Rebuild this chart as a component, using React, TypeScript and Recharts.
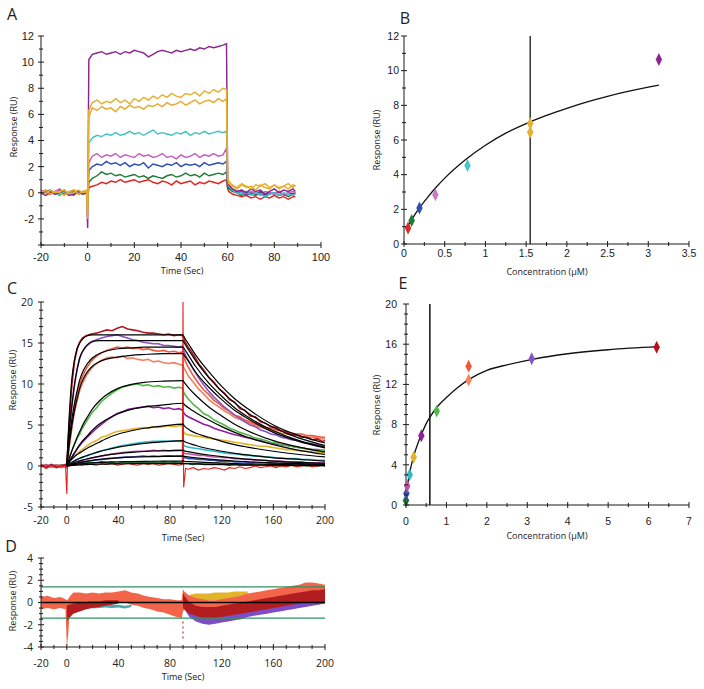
import React from 'react';
import {
  LineChart, Line, XAxis, YAxis, ComposedChart, Scatter, Cell, Area, ReferenceLine,
} from 'recharts';

const _ = null;

/* ================= Panel A : sensorgrams ================= */
const A_TIME = [-20,-18,-16,-14,-12,-10,-8,-6,-4,-2,-0.5,0,0.5,2,4,6,8,10,12,14,16,18,20,22,24,26,28,30,32,34,36,38,40,42,44,46,48,50,52,54,56,58,59.5,60,60.5,62,64,66,68,70,72,74,76,78,80,82,84,86,88,89];
const A_RED = [0.1,-0.2,0.0,-0.1,0.2,-0.1,0.0,-0.2,0.1,-0.1, 0.0,-0.4,0.4,
  0.5,0.6,0.8,0.7,0.9,0.8,1.0,0.8,0.9,1.0,0.8,0.9,1.0,0.8,0.7,0.9,0.8,0.6,0.9,0.7,0.8,0.9,0.6,0.8,0.7,0.9,0.8,0.7,0.9,
  1.0,0.3,0.1, -0.1,-0.2,-0.3,-0.2,-0.4,-0.3,-0.5,-0.3,-0.4,-0.2,-0.4,-0.3,-0.5,-0.3, -0.3];
const A_GREEN = [0.0,0.2,-0.1,0.1,-0.2,0.1,-0.1,0.2,-0.1,0.0, 0.1,-0.6,0.8,
  1.1,1.3,1.6,1.4,1.5,1.3,1.4,1.2,1.3,1.4,1.2,1.3,1.1,1.3,1.2,1.1,1.3,1.4,1.2,1.3,1.5,1.3,1.4,1.2,1.5,1.3,1.4,1.5,1.4,
  1.6,0.4,0.3, 0.1,0.0,-0.2,0.1,-0.1,-0.2,0.0,-0.3,-0.1,0.0,-0.2,-0.1,-0.3,-0.1, 0.0];
const A_BLUE = [-0.1,0.1,0.2,-0.1,0.0,0.2,-0.2,0.1,0.0,-0.1, 0.0,-0.8,1.7,
  2.0,2.2,2.1,2.4,2.2,2.3,2.1,2.3,2.0,2.2,2.1,2.3,1.9,2.2,2.1,2.0,2.2,2.1,2.3,2.0,2.2,2.1,2.2,2.0,2.3,2.1,2.2,2.3,2.2,
  2.4,0.6,0.4, 0.2,0.0,0.1,-0.2,0.0,-0.1,0.1,-0.2,0.0,-0.1,0.1,-0.2,0.0,-0.1, 0.0];
const A_MAGENTA = [0.2,0.0,-0.1,0.1,0.3,0.0,-0.1,0.2,0.0,0.1, 0.0,-0.9,2.3,
  2.8,3.0,2.7,2.9,2.8,3.0,2.7,2.9,2.8,2.7,3.0,2.8,2.9,2.7,2.8,3.0,2.7,2.8,2.6,2.9,2.7,2.8,3.0,2.7,2.9,2.8,3.0,2.8,2.9,
  3.4,0.8,0.5, 0.3,0.1,0.2,-0.1,0.1,0.0,-0.2,0.1,0.0,-0.1,0.1,-0.2,0.0,0.1, 0.0];
const A_CYAN = [0.1,-0.1,0.2,0.0,-0.2,0.1,0.0,-0.1,0.1,0.0, 0.1,-1.2,3.8,
  4.2,4.4,4.3,4.5,4.4,4.6,4.4,4.5,4.7,4.5,4.6,4.4,4.6,4.8,4.5,4.6,4.5,4.4,4.6,4.5,4.7,4.4,4.6,4.5,4.7,4.5,4.6,4.7,4.6,
  4.7,0.9,0.5, 0.2,0.0,-0.1,0.1,-0.2,0.0,-0.1,-0.3,-0.1,0.0,-0.2,0.0,-0.1,-0.2, -0.1];
const A_PURPLE = [0.0,-0.2,0.1,-0.1,0.0,0.2,-0.2,-0.1,0.1,-0.1, 0.0,-2.7,10.2,
  10.6,10.7,10.8,10.6,10.7,10.8,10.6,10.8,10.7,10.9,10.8,10.7,10.4,10.6,10.8,10.9,10.8,10.7,10.9,10.8,10.9,11.0,10.9,11.1,11.0,11.2,11.1,11.2,11.3,
  11.4,0.9,0.6, 0.3,0.1,0.2,0.0,0.3,0.1,0.2,-0.1,0.1,0.3,0.0,0.2,0.1,0.3, 0.1];
const A_GOLD1 = [0.0,0.2,-0.1,0.1,0.0,-0.2,0.1,0.2,-0.1,0.1, 0.2,-2.0,5.8,
  6.5,6.3,6.6,6.4,6.5,6.2,6.6,6.4,6.7,6.5,6.6,6.4,6.7,6.6,6.8,6.6,6.9,6.7,6.8,7.0,6.7,6.9,7.1,6.8,7.0,7.1,6.9,7.2,7.0,
  7.2,1.0,0.7, 0.5,0.3,0.6,0.4,0.5,0.2,0.6,0.4,0.3,0.6,0.4,0.5,0.3,0.6, 0.5];
const A_GOLD2 = [0.1,-0.1,0.2,0.0,0.1,0.2,-0.1,0.0,0.2,0.0, 0.1,-1.6,6.3,
  6.9,7.1,6.8,7.0,6.9,7.2,6.9,7.1,6.8,7.2,7.0,7.3,7.1,7.4,7.2,7.5,7.3,7.6,7.4,7.3,7.6,7.5,7.7,7.4,7.8,7.6,7.9,7.7,8.0,
  7.9,1.2,0.9, 0.6,0.4,0.7,0.5,0.3,0.6,0.5,0.7,0.4,0.6,0.3,0.5,0.7,0.4, 0.6];

const A_X_TICKS = [-20,-10,0,10,20,30,40,50,60,70,80,90,100];
const A_X_LABELS = [-20,0,20,40,60,80,100];
const A_Y_TICKS = [-4,-3,-2,-1,0,1,2,3,4,5,6,7,8,9,10,11,12];
const A_Y_LABELS = [-2,0,2,4,6,8,10,12];
const A_Y_LONG = [-4,-2,0,2,4,6,8,10,12];

const A_TABLE = A_TIME.map((t, i) => ({
  t, red: A_RED[i], green: A_GREEN[i], blue: A_BLUE[i], magenta: A_MAGENTA[i],
  cyan: A_CYAN[i], purple: A_PURPLE[i], gold1: A_GOLD1[i], gold2: A_GOLD2[i],
}));
const A_LINES = [
  { key: 'red', color: '#e4221f' }, { key: 'green', color: '#1f7a35' },
  { key: 'blue', color: '#2f4fb2' }, { key: 'magenta', color: '#c55bbf' },
  { key: 'cyan', color: '#3ec3c4' }, { key: 'purple', color: '#8b2590' },
  { key: 'gold1', color: '#e2ab2c' }, { key: 'gold2', color: '#e5b02f' },
];

/* ================= Panel B : steady-state fit ================= */
const B_CONC = [0.05, 0.094, 0.19, 0.385, 0.78, 1.55, 1.55, 3.13];
const B_RESP = [0.92, 1.36, 2.07, 2.84, 4.53, 6.95, 6.45, 10.65];
const B_COLORS = ['#e0262a', '#1f7a35', '#2f4fb2', '#c77ac4', '#46c6cf', '#e2b233', '#e2b233', '#8b2590'];
const B_FIT_X = [0.06, 0.1, 0.2, 0.3, 0.4, 0.5, 0.75, 1.0, 1.25, 1.5, 1.75, 2.0, 2.25, 2.5, 2.75, 3.0, 3.13];
const B_FIT_Y = [1.15, 1.45, 2.15, 2.75, 3.3, 3.8, 4.85, 5.7, 6.4, 6.95, 7.42, 7.83, 8.2, 8.52, 8.8, 9.05, 9.17];
const B_KD = 1.55;
const B_X_TICKS = [0,0.25,0.5,0.75,1,1.25,1.5,1.75,2,2.25,2.5,2.75,3,3.25,3.5];
const B_X_LABELS = [0,0.5,1,1.5,2,2.5,3,3.5];
const B_Y_TICKS = [0,1,2,3,4,5,6,7,8,9,10,11,12];
const B_Y_LABELS = [0,2,4,6,8,10,12];
const B_POINTS = B_CONC.map((x, i) => ({ x, y: B_RESP[i] }));
const B_FIT = B_FIT_X.map((x, i) => ({ x, y: B_FIT_Y[i] }));

/* ================= Panel C : kinetics with fits ================= */
const C_TIME = [-20,-16,-12,-8,-4,-1,0,0.5,2,4,6,8,10,12,15,19,23,27,31,35,39,43,47,51,55,59,63,67,71,75,79,83,87,89.5,90,90.5,92,94,98,102,106,110,114,118,122,126,130,134,138,142,146,150,154,158,162,166,170,174,178,182,186,190,194,198,200];
const C_DARKRED = [0.1,-0.2,0.2,-0.1,0.0,0.2,0.0,
  1.5,5.5,10.0,12.8,14.3,15.1,15.6,15.9,16.1,16.2,16.4,16.6,16.5,16.8,17.0,16.7,16.6,16.5,16.3,16.2,16.2,16.1,16.0,16.1,15.9,16.0,15.9,
  15.8,15.6,15.0,14.5,13.6,12.5,11.7,10.8,10.2,9.4,8.9,8.1,7.8,7.0,6.8,6.1,6.0,5.4,5.2,4.8,4.7,4.3,4.2,3.8,3.8,3.5,3.5,3.2,3.3,3.0,3.1];
const C_VIOLET = [-0.1,0.1,0.0,-0.2,0.1,0.0,-0.1,
  1.0,4.3,7.4,9.9,11.8,13.1,13.9,14.6,15.1,15.4,15.6,15.8,15.9,16.0,15.8,15.6,15.4,15.3,15.1,15.0,14.9,14.9,14.7,14.7,14.6,14.5,14.6,
  14.4,14.1,13.5,12.9,11.8,10.8,9.9,9.1,8.4,7.8,7.2,6.7,6.2,5.8,5.4,5.0,4.8,4.4,4.2,3.9,3.8,3.5,3.4,3.2,3.1,2.9,2.8,2.7,2.6,2.5,2.5];
const C_TOMATO1 = [0.2,-0.1,0.1,0.0,-0.2,0.1,-0.3,
  0.6,2.6,4.9,7.2,8.8,10.0,10.9,11.9,12.8,13.4,13.8,14.1,14.3,14.5,14.4,14.5,14.3,14.4,14.2,14.3,14.1,14.0,14.1,13.9,14.0,13.8,13.9,
  13.8,13.4,12.7,12.1,11.0,10.1,9.3,8.7,8.0,7.6,7.0,6.7,6.2,6.0,5.6,5.4,5.1,4.9,4.7,4.6,4.4,4.3,4.1,4.0,3.9,3.9,3.7,3.7,3.6,3.5,3.5];
const C_TOMATO2 = [-0.1,0.2,-0.2,0.1,0.0,-0.1,0.1,
  0.5,2.6,4.8,6.6,8.0,9.2,10.0,11.0,11.9,12.5,12.9,13.2,13.3,13.2,13.4,13.1,13.2,13.0,12.9,13.0,12.7,12.8,12.6,12.5,12.6,12.4,12.3,
  12.3,12.0,11.6,11.0,10.2,9.4,8.8,8.1,7.6,7.2,6.7,6.4,5.9,5.7,5.4,5.2,4.9,4.7,4.6,4.3,4.2,4.0,3.9,3.8,3.8,3.6,3.5,3.5,3.4,3.3,3.3];
const C_GREEN = [0.0,-0.1,0.1,-0.2,0.1,0.0,-0.1,
  0.3,1.0,1.9,2.7,3.4,3.9,4.6,5.4,6.4,7.1,7.9,8.4,8.9,9.3,9.6,9.8,9.9,10.0,9.8,9.9,9.7,9.8,9.6,9.7,9.5,9.6,9.5,
  9.3,9.0,8.6,8.2,7.5,7.0,6.4,6.1,5.6,5.3,5.0,4.6,4.4,4.1,3.9,3.7,3.4,3.3,3.1,2.9,2.8,2.6,2.5,2.4,2.3,2.2,2.1,2.0,1.9,1.9,1.8];
const C_PURPLE = [0.1,0.0,-0.1,0.1,0.0,0.1,0.0,
  0.2,0.6,1.1,1.6,2.1,2.5,2.9,3.4,4.0,4.6,5.1,5.6,6.0,6.4,6.6,6.9,7.0,7.1,7.2,7.3,7.1,7.2,7.0,7.1,6.9,7.0,6.8,
  6.7,6.5,6.2,6.0,5.7,5.4,5.1,4.9,4.6,4.4,4.2,4.0,3.8,3.7,3.5,3.4,3.2,3.1,2.9,2.8,2.7,2.6,2.5,2.4,2.3,2.2,2.1,2.0,2.0,1.9,1.9];
const C_GOLD = [0.0,0.1,-0.1,0.0,0.1,-0.1,0.0,
  0.2,0.5,0.9,1.2,1.5,1.8,2.0,2.4,2.8,3.1,3.5,3.7,4.0,4.2,4.3,4.4,4.5,4.6,4.7,4.6,4.8,4.7,4.8,4.9,4.8,4.9,4.9,
  4.6,4.1,3.9,3.8,3.7,3.6,3.5,3.4,3.3,3.2,3.1,3.0,2.9,2.8,2.7,2.6,2.5,2.4,2.4,2.3,2.2,2.1,2.0,2.0,1.9,1.8,1.8,1.7,1.7,1.6,1.6];
const C_CYAN = [0.1,-0.1,0.0,0.1,-0.1,0.0,0.1,
  0.1,0.25,0.45,0.65,0.8,0.95,1.05,1.2,1.45,1.65,1.85,2.0,2.2,2.35,2.5,2.6,2.7,2.8,2.9,2.95,3.0,3.0,3.05,3.0,3.05,3.0,3.0,
  2.7,2.5,2.4,2.3,2.2,2.1,2.0,1.9,1.8,1.7,1.6,1.5,1.5,1.4,1.3,1.3,1.2,1.2,1.1,1.1,1.0,1.0,0.9,0.9,0.9,0.8,0.8,0.8,0.7,0.7,0.7];
const C_MAGENTA = [0.0,0.1,0.0,-0.1,0.1,0.0,0.0,
  0.1,0.2,0.3,0.45,0.55,0.65,0.7,0.8,0.95,1.1,1.2,1.35,1.45,1.55,1.65,1.7,1.75,1.8,1.8,1.85,1.9,1.85,1.9,1.85,1.9,1.9,1.9,
  1.7,1.6,1.5,1.5,1.4,1.3,1.3,1.2,1.1,1.1,1.0,1.0,0.9,0.9,0.8,0.8,0.7,0.7,0.7,0.6,0.6,0.6,0.5,0.5,0.5,0.5,0.4,0.4,0.4,0.4,0.4];
const C_BLUE = [0.0,-0.1,0.1,0.0,0.0,-0.1,0.0,
  0.05,0.1,0.2,0.3,0.35,0.45,0.5,0.55,0.65,0.75,0.8,0.9,0.95,1.0,1.05,1.1,1.1,1.15,1.2,1.15,1.2,1.15,1.2,1.25,1.2,1.2,1.2,
  1.1,1.0,1.0,0.9,0.9,0.8,0.8,0.7,0.7,0.6,0.6,0.6,0.5,0.5,0.5,0.4,0.4,0.4,0.4,0.3,0.3,0.3,0.3,0.3,0.3,0.2,0.2,0.2,0.2,0.2,0.2];
const C_DKGREEN = [0.0,0.1,-0.1,0.0,0.1,0.0,0.0,
  0.1,0.1,0.2,0.2,0.3,0.3,0.3,0.4,0.4,0.4,0.5,0.4,0.5,0.3,0.5,0.4,0.5,0.4,0.5,0.4,0.5,0.4,0.5,0.4,0.5,0.4,0.4,
  0.3,0.3,0.3,0.3,0.2,0.3,0.2,0.2,0.2,0.2,0.2,0.1,0.2,0.1,0.1,0.1,0.1,0.1,0.1,0.1,0.0,0.1,0.0,0.1,0.0,0.1,0.0,0.1,0.0,0.1,0.0];
const C_RED = [0.2,-0.3,0.1,-0.2,0.0,-0.1,-3.4,
  0.3,0.0,0.2,0.1,0.3,0.2,0.1,0.3,0.2,0.1,0.3,0.2,0.3,0.1,0.2,0.3,0.2,0.1,0.3,0.2,0.3,0.1,0.2,0.3,0.2,0.1,0.2,
  20,-2.6,-0.3,-0.4,-0.2,-0.5,-0.3,-0.4,-0.2,-0.3,-0.5,-0.2,-0.3,-0.1,-0.3,-0.2,0.0,-0.2,-0.1,0.0,-0.2,0.0,-0.1,0.1,-0.1,0.0,0.1,-0.1,0.0,0.1,0.0];

const C_FIT_TIME = [0,1,2,4,6,8,10,13,16,20,25,30,40,50,60,75,90,91,95,100,110,120,130,140,160,180,200];
const C_FIT1 = [0,3.5,6.5,10.8,13.0,14.3,15.0,15.6,15.9,16.0,16.0,16.0,16.0,16.0,16.0,16.0,16.0, 15.7,14.7,13.5,11.5,9.7,8.2,7.0,5.0,3.7,2.8];
const C_FIT2 = [0,2.5,4.5,7.5,10.0,11.8,13.2,14.2,14.8,15.2,15.3,15.3,15.3,15.3,15.3,15.3,15.3, 15.0,14.0,12.8,10.8,9.1,7.7,6.5,4.7,3.4,2.5];
const C_FIT3 = [0,1.8,3.3,5.8,7.7,9.2,10.5,11.7,12.5,13.2,13.7,14.0,14.3,14.4,14.5,14.5,14.5, 14.3,13.3,12.1,10.1,8.5,7.1,6.0,4.3,3.1,2.3];
const C_FIT4 = [0,1.5,2.8,5.0,6.8,8.2,9.5,10.7,11.5,12.2,12.7,13.0,13.3,13.5,13.6,13.7,13.7, 13.5,12.6,11.4,9.6,8.1,6.8,5.8,4.1,3.0,2.2];
const C_FIT5 = [0,0.5,1.0,1.9,2.7,3.5,4.2,5.2,6.0,7.0,7.9,8.6,9.5,9.95,10.2,10.35,10.4, 10.2,9.4,8.6,7.2,6.1,5.1,4.3,3.1,2.3,1.7];
const C_FIT6 = [0,0.3,0.6,1.1,1.6,2.1,2.6,3.2,3.7,4.4,5.1,5.6,6.4,6.9,7.2,7.45,7.65, 7.5,7.0,6.5,5.6,4.8,4.1,3.5,2.6,1.9,1.4];
const C_FIT7 = [0,0.25,0.5,0.85,1.15,1.4,1.6,1.9,2.2,2.5,2.9,3.3,3.9,4.3,4.6,4.9,5.1, 4.9,4.4,4.0,3.5,3.0,2.6,2.3,1.8,1.4,1.1];
const C_FIT8 = [0,0.12,0.25,0.45,0.65,0.8,0.95,1.15,1.3,1.5,1.75,1.95,2.3,2.55,2.75,2.95,3.1, 3.0,2.75,2.5,2.1,1.8,1.55,1.35,1.0,0.8,0.6];
const C_FIT9 = [0,0.08,0.15,0.3,0.42,0.52,0.62,0.75,0.88,1.02,1.18,1.32,1.52,1.67,1.77,1.86,1.9, 1.85,1.72,1.58,1.34,1.14,0.97,0.83,0.6,0.44,0.33];
const C_FIT10 = [0,0.05,0.1,0.2,0.28,0.35,0.42,0.51,0.6,0.7,0.8,0.88,1.0,1.08,1.13,1.17,1.2, 1.17,1.08,1.0,0.85,0.72,0.61,0.52,0.38,0.28,0.21];
const C_FIT11 = [0,0.03,0.06,0.11,0.16,0.2,0.24,0.29,0.33,0.38,0.43,0.47,0.52,0.55,0.57,0.59,0.6, 0.58,0.54,0.5,0.42,0.36,0.3,0.26,0.19,0.14,0.1];
const C_FIT12 = [0,0.02,0.03,0.06,0.08,0.1,0.12,0.15,0.17,0.2,0.22,0.24,0.27,0.28,0.29,0.3,0.3, 0.29,0.27,0.25,0.21,0.18,0.15,0.13,0.1,0.07,0.05];

const C_X_TICKS = [-20,-10,0,10,20,30,40,50,60,70,80,90,100,110,120,130,140,150,160,170,180,190,200];
const C_X_LABELS = [-20,0,40,80,120,160,200];
const C_Y_TICKS = [-5,-4,-3,-2,-1,0,1,2,3,4,5,6,7,8,9,10,11,12,13,14,15,16,17,18,19,20];
const C_Y_LABELS = [-5,0,5,10,15,20];

const C_TRACES = [
  { key: 'dkgreen', values: C_DKGREEN, color: '#1d6b33' },
  { key: 'blue', values: C_BLUE, color: '#3a4eb5' },
  { key: 'magenta', values: C_MAGENTA, color: '#c14fa8' },
  { key: 'cyan', values: C_CYAN, color: '#2eb8c8' },
  { key: 'gold', values: C_GOLD, color: '#e3b325' },
  { key: 'purple', values: C_PURPLE, color: '#8d1f9c' },
  { key: 'green', values: C_GREEN, color: '#52b848' },
  { key: 'tomato2', values: C_TOMATO2, color: '#f57f5e' },
  { key: 'tomato1', values: C_TOMATO1, color: '#f0583c' },
  { key: 'violet', values: C_VIOLET, color: '#8654c6' },
  { key: 'darkred', values: C_DARKRED, color: '#b2151b' },
  { key: 'red', values: C_RED, color: '#e2231b' },
];
const C_FITS = [C_FIT1, C_FIT2, C_FIT3, C_FIT4, C_FIT5, C_FIT6, C_FIT7, C_FIT8, C_FIT9, C_FIT10, C_FIT11, C_FIT12];
const C_TABLE = C_TIME.map((t, i) => {
  const row: any = { t };
  C_TRACES.forEach((s) => { row[s.key] = s.values[i]; });
  return row;
});
const C_FIT_TABLE = C_FIT_TIME.map((t, i) => {
  const row: any = { t };
  C_FITS.forEach((f, k) => { row['f' + k] = f[i]; });
  return row;
});

/* ================= Panel D : residuals ================= */
const D_TIME = [-20,-15,-10,-5,-1,0,1,2,5,10,15,20,25,30,35,40,45,50,55,60,65,70,75,80,85,89,90,91,95,100,105,110,115,120,125,130,135,140,145,150,155,160,165,170,175,180,185,190,195,200];
const D_TOMATO_LO = [-0.6,-0.5,-0.6,-0.5,-0.6,-4.0,-3.0,-1.2,-0.4,0.0,0.1,0.0,-0.1,0.0,0.1,0.0,0.0,-0.2,-0.3,-0.5,-0.6,-0.8,-0.9,-1.1,-1.3,-1.4,-0.8,-0.6,-0.8,-1.0,-1.1,-1.2,-1.2,-1.1,-1.0,-0.9,-0.7,-0.6,-0.5,-0.4,-0.3,-0.2,-0.1,0.0,0.1,0.1,0.2,0.2,0.1,0.0];
const D_TOMATO_HI = [0.5,0.6,0.4,0.5,0.3,0.2,0.3,0.5,0.9,0.9,0.8,0.9,0.8,0.9,0.9,1.0,1.1,0.9,0.8,0.6,0.5,0.4,0.3,0.3,0.2,0.2,1.2,1.0,0.6,0.4,0.3,0.2,0.2,0.3,0.4,0.5,0.6,0.8,0.9,1.0,1.1,1.2,1.3,1.4,1.5,1.6,1.8,1.8,1.7,1.6];
const D_DARKRED_LO = [_,_,_,_,_,-1.5,-1.6,-1.4,-1.0,-0.8,-0.6,-0.5,-0.4,-0.3,-0.2,-0.1,_,_,_,_,_,_,_,_,_,_,-0.5,-0.6,-1.0,-1.2,-1.4,-1.4,-1.4,-1.3,-1.2,-1.1,-1.0,-0.9,-0.8,-0.7,-0.6,-0.5,-0.4,-0.3,-0.2,-0.1,0.0,0.0,0.0,0.0];
const D_DARKRED_HI = [_,_,_,_,_,-0.3,-0.2,-0.2,-0.1,0.0,0.1,0.1,0.1,0.2,0.2,0.2,_,_,_,_,_,_,_,_,_,_,0.9,0.6,0.0,-0.3,-0.4,-0.4,-0.4,-0.3,-0.2,-0.1,0.0,0.1,0.2,0.3,0.4,0.5,0.6,0.7,0.8,0.9,1.0,1.1,1.1,1.2];
const D_PURPLE_LO = [_,_,_,_,_,_,_,_,_,_,_,_,_,_,_,_,_,_,_,_,_,_,_,_,_,_,-0.5,-0.6,-1.3,-1.7,-1.9,-2.0,-1.9,-1.8,-1.7,-1.6,-1.5,-1.3,-1.2,-1.1,-1.0,-0.9,-0.8,-0.7,-0.6,-0.5,-0.4,-0.3,-0.2,-0.1];
const D_PURPLE_HI = [_,_,_,_,_,_,_,_,_,_,_,_,_,_,_,_,_,_,_,_,_,_,_,_,_,_,0.3,0.2,-0.3,-0.6,-0.8,-0.9,-0.9,-0.8,-0.7,-0.6,-0.5,-0.4,-0.3,-0.2,-0.1,0.0,0.1,0.1,0.2,0.3,0.3,0.4,0.5,0.6];
const D_GOLD_LO = [_,_,_,_,_,_,_,_,_,_,_,_,_,_,_,_,_,_,_,_,_,_,_,_,_,_,_,_,0.0,0.1,0.1,0.2,0.2,0.2,0.3,0.3,0.4,0.4,_,_,_,_,_,_,_,_,_,_,_,_];
const D_GOLD_HI = [_,_,_,_,_,_,_,_,_,_,_,_,_,_,_,_,_,_,_,_,_,_,_,_,_,_,_,_,0.7,0.8,0.8,0.8,0.9,0.9,0.9,1.0,1.0,1.0,_,_,_,_,_,_,_,_,_,_,_,_];
const D_CYAN_LO = [_,_,_,_,_,_,_,_,_,_,_,-0.55,-0.5,-0.45,-0.5,-0.45,-0.55,-0.4,_,_,_,_,_,_,_,_,_,_,_,_,_,_,_,_,_,_,_,_,_,_,_,_,_,_,_,_,_,_,_,_];
const D_CYAN_HI = [_,_,_,_,_,_,_,_,_,_,_,-0.35,-0.3,-0.25,-0.2,-0.2,-0.3,-0.2,_,_,_,_,_,_,_,_,_,_,_,_,_,_,_,_,_,_,_,_,_,_,_,_,_,_,_,_,_,_,_,_];
const D_LIMIT = 1.4;
const D_SPIKE_T = [90, 90];
const D_SPIKE_V = [-1.7, -3.3];
const D_X_TICKS = C_X_TICKS;
const D_X_LABELS = C_X_LABELS;
const D_Y_TICKS = [-4,-3.5,-3,-2.5,-2,-1.5,-1,-0.5,0,0.5,1,1.5,2,2.5,3,3.5,4];
const D_Y_LABELS = [-4,-2,0,2,4];

const pair = (lo: number | null, hi: number | null) => (lo == null || hi == null ? null : [lo, hi]);
const D_TABLE = D_TIME.map((t, i) => ({
  t,
  purple: pair(D_PURPLE_LO[i], D_PURPLE_HI[i]),
  gold: pair(D_GOLD_LO[i], D_GOLD_HI[i]),
  cyan: pair(D_CYAN_LO[i], D_CYAN_HI[i]),
  tomato: pair(D_TOMATO_LO[i], D_TOMATO_HI[i]),
  darkred: pair(D_DARKRED_LO[i], D_DARKRED_HI[i]),
}));
const D_BANDS = [
  { key: 'purple', color: '#7e4cc4' },
  { key: 'gold', color: '#e2b428' },
  { key: 'cyan', color: '#4aa9a8' },
  { key: 'tomato', color: '#f2654b' },
  { key: 'darkred', color: '#b21d20' },
];
const D_SPIKE = D_SPIKE_T.map((t, i) => ({ t, v: D_SPIKE_V[i] }));

/* ================= Panel E : steady-state fit ================= */
const E_CONC = [0.0, 0.01, 0.03, 0.09, 0.19, 0.38, 0.76, 1.55, 1.55, 3.11, 6.2];
const E_RESP = [0.45, 1.15, 1.9, 3.0, 4.75, 6.9, 9.35, 12.45, 13.8, 14.55, 15.7];
const E_COLORS = ['#1d6b33', '#3a4eb5', '#c14fa8', '#2eb8c8', '#e3b325', '#8d1f9c', '#52b848', '#f4845f', '#f0583c', '#8654c6', '#b2151b'];
const E_FIT_X = [0, 0.02, 0.05, 0.1, 0.2, 0.3, 0.4, 0.5, 0.6, 0.8, 1.0, 1.25, 1.56, 2.0, 2.5, 3.13, 4.0, 5.0, 6.25];
const E_FIT_Y = [0.3, 1.3, 2.3, 3.4, 5.0, 6.2, 7.2, 8.1, 8.8, 9.9, 10.7, 11.6, 12.5, 13.4, 13.95, 14.5, 15.05, 15.45, 15.75];
const E_KD = 0.59;
const E_X_TICKS = [0,0.5,1,1.5,2,2.5,3,3.5,4,4.5,5,5.5,6,6.5,7];
const E_X_LABELS = [0,1,2,3,4,5,6,7];
const E_Y_TICKS = [0,1,2,3,4,5,6,7,8,9,10,11,12,13,14,15,16,17,18,19,20];
const E_Y_LABELS = [0,4,8,12,16,20];
const E_POINTS = E_CONC.map((x, i) => ({ x, y: E_RESP[i] }));
const E_FIT = E_FIT_X.map((x, i) => ({ x, y: E_FIT_Y[i] }));

/* ================= helpers ================= */
const ARIAL = '"Liberation Sans", Arial, sans-serif';
const MYRIAD = '"Open Sans", "Noto Sans", sans-serif';
const AX = '#1a1a1a';

type Spec = { labels: number[]; longs: number[]; font: string; size: number; gap: number };
const near = (list: number[], v: number) => list.some((m) => Math.abs(m - v) < 1e-6);

const makeXTick = (s: Spec) => (props: any) => {
  const { x, y, payload } = props;
  const v = Number(payload.value);
  const len = near(s.longs, v) ? 3 : 2;
  return (
    <g>
      <line x1={x} x2={x} y1={y - len} y2={y + len} stroke={AX} strokeWidth={1} />
      {near(s.labels, v) ? (
        <text x={x} y={y + s.gap} textAnchor="middle" fontFamily={s.font} fontSize={s.size} fill="#222">{String(v)}</text>
      ) : null}
    </g>
  );
};
const makeYTick = (s: Spec) => (props: any) => {
  const { x, y, payload } = props;
  const v = Number(payload.value);
  const len = near(s.longs, v) ? 3 : 2;
  return (
    <g>
      <line x1={x - len} x2={x + len} y1={y} y2={y} stroke={AX} strokeWidth={1} />
      {near(s.labels, v) ? (
        <text x={x - s.gap} y={y + s.size * 0.36} textAnchor="end" fontFamily={s.font} fontSize={s.size} fill="#222">{String(v)}</text>
      ) : null}
    </g>
  );
};
const axisCommon = {
  type: 'number' as const,
  interval: 0 as const,
  tickSize: 0,
  tickMargin: 0,
  tickLine: false,
  axisLine: { stroke: AX, strokeWidth: 1 },
};

const Diamond = (props: any) => {
  const { cx, cy, fill } = props;
  if (cx == null || cy == null) return <g />;
  return <polygon points={`${cx},${cy - 6.5} ${cx + 3.2},${cy} ${cx},${cy + 6.5} ${cx - 3.2},${cy}`} fill={fill} />;
};

export default function App() {
  return (
    <div style={{ position: 'absolute', left: 0, top: 0, width: 704, height: 689, background: '#fff', overflow: 'hidden' }}>
      {/* Panel A */}
      <div style={{ position: 'absolute', left: 0, top: 0 }}>
        <LineChart width={340} height={280} data={A_TABLE} margin={{ top: 36, right: 19, bottom: 0, left: 0 }}>
          <XAxis dataKey="t" {...axisCommon} domain={[-20, 100]} ticks={A_X_TICKS} height={35}
            tick={makeXTick({ labels: A_X_LABELS, longs: A_X_LABELS, font: ARIAL, size: 11, gap: 16 })} />
          <YAxis {...axisCommon} domain={[-4, 12]} ticks={A_Y_TICKS} width={41}
            tick={makeYTick({ labels: A_Y_LABELS, longs: A_Y_LONG, font: ARIAL, size: 11, gap: 7 })} />
          {A_LINES.map((s) => (
            <Line key={s.key} type="linear" dataKey={s.key} stroke={s.color} strokeWidth={1.45}
              dot={false} activeDot={false} isAnimationActive={false} />
          ))}
        </LineChart>
      </div>

      {/* Panel B */}
      <div style={{ position: 'absolute', left: 380, top: 0 }}>
        <ComposedChart width={324} height={280} margin={{ top: 36, right: 15, bottom: 0, left: 0 }}>
          <XAxis dataKey="x" {...axisCommon} domain={[0, 3.5]} ticks={B_X_TICKS} height={36}
            tick={makeXTick({ labels: B_X_LABELS, longs: B_X_LABELS, font: ARIAL, size: 10.5, gap: 13 })} />
          <YAxis {...axisCommon} domain={[0, 12]} ticks={B_Y_TICKS} width={24}
            tick={makeYTick({ labels: B_Y_LABELS, longs: B_Y_LABELS, font: ARIAL, size: 10.5, gap: 5 })} />
          <ReferenceLine x={B_KD} stroke="#333" strokeWidth={1.5} />
          <Line data={B_FIT} dataKey="y" type="monotone" stroke="#111" strokeWidth={1.3}
            dot={false} activeDot={false} isAnimationActive={false} />
          <Scatter data={B_POINTS} dataKey="y" shape={Diamond} isAnimationActive={false}>
            {B_COLORS.map((c, i) => <Cell key={i} fill={c} />)}
          </Scatter>
        </ComposedChart>
      </div>

      {/* Panel C */}
      <div style={{ position: 'absolute', left: 0, top: 270 }}>
        <LineChart width={340} height={280} data={C_TABLE} margin={{ top: 32, right: 15, bottom: 0, left: 0 }}>
          <XAxis dataKey="t" {...axisCommon} domain={[-20, 200]} ticks={C_X_TICKS} height={43}
            tick={makeXTick({ labels: C_X_LABELS, longs: C_X_LABELS, font: MYRIAD, size: 10.5, gap: 17 })} />
          <YAxis {...axisCommon} domain={[-5, 20]} ticks={C_Y_TICKS} width={41}
            tick={makeYTick({ labels: C_Y_LABELS, longs: C_Y_LABELS, font: MYRIAD, size: 10.5, gap: 8 })} />
          {C_TRACES.map((s) => (
            <Line key={s.key} type="linear" dataKey={s.key} stroke={s.color} strokeWidth={s.key === 'red' ? 1.1 : 1.6}
              dot={false} activeDot={false} isAnimationActive={false} />
          ))}
          {C_FITS.map((f, k) => (
            <Line key={'f' + k} data={C_FIT_TABLE} type="monotone" dataKey={'f' + k} stroke="#000" strokeWidth={1.2}
              dot={false} activeDot={false} isAnimationActive={false} />
          ))}
        </LineChart>
      </div>

      {/* Panel D */}
      <div style={{ position: 'absolute', left: 0, top: 540 }}>
        <ComposedChart width={340} height={149} data={D_TABLE} margin={{ top: 18, right: 15, bottom: 0, left: 0 }}>
          <XAxis dataKey="t" {...axisCommon} domain={[-20, 200]} ticks={D_X_TICKS} height={42}
            tick={makeXTick({ labels: D_X_LABELS, longs: D_X_LABELS, font: MYRIAD, size: 10.5, gap: 20 })} />
          <YAxis {...axisCommon} domain={[-4, 4]} ticks={D_Y_TICKS} width={41}
            tick={makeYTick({ labels: D_Y_LABELS, longs: D_Y_LABELS, font: MYRIAD, size: 10.5, gap: 8 })} />
          {D_BANDS.map((b) => (
            <Area key={b.key} type="linear" dataKey={b.key} fill={b.color} fillOpacity={1} stroke="none"
              dot={false} activeDot={false} isAnimationActive={false} />
          ))}
          <ReferenceLine y={D_LIMIT} stroke="#2f9160" strokeWidth={1.3} />
          <ReferenceLine y={-D_LIMIT} stroke="#2f9160" strokeWidth={1.3} />
          <ReferenceLine y={0} stroke="#000" strokeWidth={1.6} />
          <Line data={D_SPIKE} dataKey="v" type="linear" stroke="#c0392b" strokeWidth={1.2} strokeDasharray="2 3"
            dot={false} activeDot={false} isAnimationActive={false} />
        </ComposedChart>
      </div>

      {/* Panel E */}
      <div style={{ position: 'absolute', left: 380, top: 270 }}>
        <ComposedChart width={324} height={270} margin={{ top: 34, right: 15, bottom: 0, left: 0 }}>
          <XAxis dataKey="x" {...axisCommon} domain={[0, 7]} ticks={E_X_TICKS} height={35}
            tick={makeXTick({ labels: E_X_LABELS, longs: E_X_LABELS, font: ARIAL, size: 10.5, gap: 20 })} />
          <YAxis {...axisCommon} domain={[0, 20]} ticks={E_Y_TICKS} width={26}
            tick={makeYTick({ labels: E_Y_LABELS, longs: E_Y_LABELS, font: ARIAL, size: 10.5, gap: 9 })} />
          <ReferenceLine x={E_KD} stroke="#111" strokeWidth={1.5} />
          <Line data={E_FIT} dataKey="y" type="monotone" stroke="#111" strokeWidth={1.3}
            dot={false} activeDot={false} isAnimationActive={false} />
          <Scatter data={E_POINTS} dataKey="y" shape={Diamond} isAnimationActive={false}>
            {E_COLORS.map((c, i) => <Cell key={i} fill={c} />)}
          </Scatter>
        </ComposedChart>
      </div>

      {/* Text overlay: panel letters and axis titles */}
      <svg width={704} height={689} style={{ position: 'absolute', left: 0, top: 0, pointerEvents: 'none' }}>
        <g fontFamily={MYRIAD} fill="#222" textAnchor="middle" dominantBaseline="central">
          <text x={12} y={14} fontSize={16}>A</text>
          <text x={405} y={18} fontSize={16}>B</text>
          <text x={12} y={288} fontSize={16}>C</text>
          <text x={403} y={283} fontSize={16}>E</text>
          <text x={11} y={546} fontSize={16}>D</text>
          <text x={182} y={270} fontSize={9}>Time (Sec)</text>
          <text x={547} y={271} fontSize={9}>Concentration (μM)</text>
          <text x={183} y={537} fontSize={9}>Time (Sec)</text>
          <text x={547} y={535} fontSize={9}>Concentration (μM)</text>
          <text x={183} y={676} fontSize={9}>Time (Sec)</text>
          <text transform="translate(13,127) rotate(-90)" fontSize={9}>Response (RU)</text>
          <text transform="translate(376,140) rotate(-90)" fontSize={9}>Response (RU)</text>
          <text transform="translate(12,380) rotate(-90)" fontSize={9}>Response (RU)</text>
          <text transform="translate(376,405) rotate(-90)" fontSize={9}>Response (RU)</text>
          <text transform="translate(12,601) rotate(-90)" fontSize={9}>Response (RU)</text>
        </g>
      </svg>
    </div>
  );
}
